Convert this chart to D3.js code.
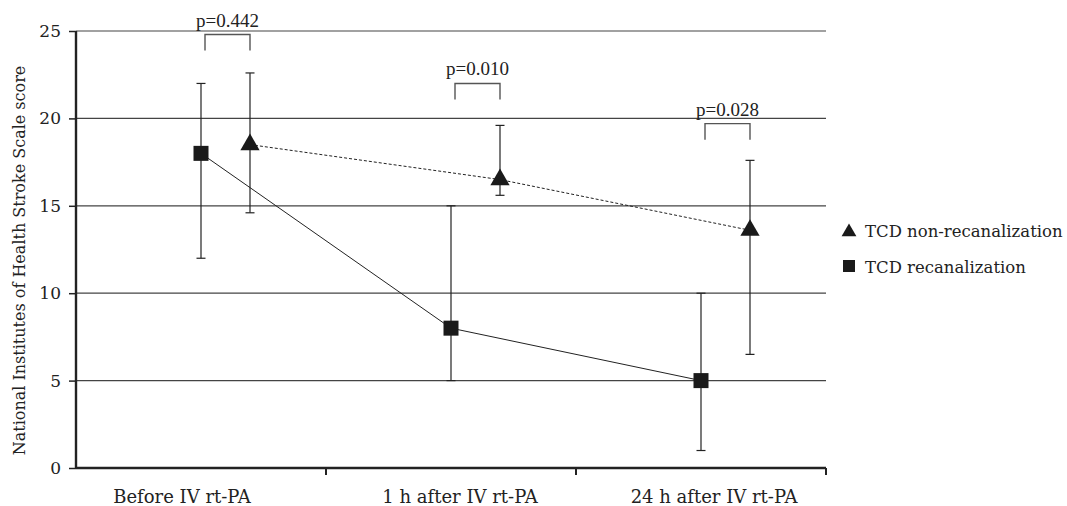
<!DOCTYPE html>
<html>
<head>
<meta charset="utf-8">
<script src="https://cdn.jsdelivr.net/npm/d3@7"></script>
<style>
  body { margin: 0; background: #fff; }
  text { fill: #222; }
</style>
</head>
<body>
<div class="chart"></div>
<script>
// data
var categories = ["Before IV rt-PA", "1 h after IV rt-PA", "24 h after IV rt-PA"];

var recanMean = [18, 8, 5];
var recanLow = [12, 5, 1];
var recanHigh = [22, 15, 10];

var nonMean = [18.5, 16.5, 13.6];
var nonLow = [14.6, 15.6, 6.5];
var nonHigh = [22.6, 19.6, 17.6];

var pLabels = ["p=0.442", "p=0.010", "p=0.028"];
var pLevel = [24.8, 22.0, 19.7];

var yTicks = [0, 5, 10, 15, 20, 25];

var serif = "'DejaVu Serif', serif";

// chart area
var svgWidth = 1067;
var svgHeight = 506;

var margin = { top: 31, right: 241, bottom: 38, left: 76 };
var width = svgWidth - margin.left - margin.right;
var height = svgHeight - margin.top - margin.bottom;

var svg = d3.select(".chart")
  .append("svg")
  .attr("width", svgWidth)
  .attr("height", svgHeight)
  .style("font-family", serif);

var chartGroup = svg.append("g")
  .attr("transform", `translate(${margin.left}, ${margin.top})`);

var xScale = d3.scaleBand()
  .domain(categories)
  .range([0, width]);

var yScale = d3.scaleLinear()
  .domain([0, 25])
  .range([height, 0]);

var triOffset = 49;
var xSq = (d, i) => xScale(categories[i]) + xScale.bandwidth() / 2;
var xTri = (d, i) => xSq(d, i) + triOffset;

// gridlines
chartGroup.selectAll(".grid")
  .data(yTicks.filter(t => t > 0))
  .enter()
  .append("line")
  .attr("x1", 0)
  .attr("x2", width)
  .attr("y1", d => yScale(d))
  .attr("y2", d => yScale(d))
  .attr("stroke", "#444")
  .attr("stroke-width", 1.2);

// axes
var leftAxis = d3.axisLeft(yScale).tickValues(yTicks).tickSize(7).tickPadding(8);
var yAxis = chartGroup.append("g").call(leftAxis);
yAxis.select(".domain").attr("stroke", "#222").attr("stroke-width", 2.4).attr("d", `M0,${height + 1}V0`);
yAxis.selectAll(".tick line").attr("stroke", "#222").attr("stroke-width", 1.5);
yAxis.selectAll("text").attr("font-size", 17).style("font-family", serif).attr("fill", "#222");

// labels are not quite centred in the original
var labelShift = [-19, 9, 13];
var bottomAxis = d3.axisBottom(xScale).tickSize(0).tickPadding(22);
var xAxis = chartGroup.append("g")
  .attr("transform", `translate(0, ${height})`)
  .call(bottomAxis);
xAxis.select(".domain").attr("stroke", "#222").attr("stroke-width", 2.4).attr("d", `M0,0H${width}`);
xAxis.selectAll("text")
  .attr("font-size", 18)
  .style("font-family", serif)
  .attr("fill", "#222")
  .attr("dx", (d, i) => labelShift[i]);

// band boundary ticks
chartGroup.selectAll(".xtick")
  .data(categories)
  .enter()
  .append("line")
  .attr("x1", d => xScale(d) + xScale.bandwidth())
  .attr("x2", d => xScale(d) + xScale.bandwidth())
  .attr("y1", height)
  .attr("y2", height + 7)
  .attr("stroke", "#222")
  .attr("stroke-width", 2);

// y label
chartGroup.append("text")
  .attr("transform", "rotate(-90)")
  .attr("x", -(height / 2) - 11)
  .attr("y", -margin.left + 25)
  .attr("text-anchor", "middle")
  .attr("font-size", 16)
  .text("National Institutes of Health Stroke Scale score");

// lines
var lineSq = d3.line().x(xSq).y(d => yScale(d));
var lineTri = d3.line().x(xTri).y(d => yScale(d));

chartGroup.append("path")
  .datum(recanMean)
  .attr("d", lineSq)
  .attr("fill", "none")
  .attr("stroke", "#222")
  .attr("stroke-width", 1);

chartGroup.append("path")
  .datum(nonMean)
  .attr("d", lineTri)
  .attr("fill", "none")
  .attr("stroke", "#222")
  .attr("stroke-width", 1)
  .attr("stroke-dasharray", "3,2");

// error bars
function errorBars(lows, highs, xf) {
  var g = chartGroup.append("g").attr("stroke", "#222").attr("stroke-width", 1.2);
  lows.forEach((lo, i) => {
    var x = xf(lo, i);
    g.append("line").attr("x1", x).attr("x2", x).attr("y1", yScale(lo)).attr("y2", yScale(highs[i]));
    g.append("line").attr("x1", x - 4.5).attr("x2", x + 4.5).attr("y1", yScale(lo)).attr("y2", yScale(lo));
    g.append("line").attr("x1", x - 4.5).attr("x2", x + 4.5).attr("y1", yScale(highs[i])).attr("y2", yScale(highs[i]));
  });
}
errorBars(recanLow, recanHigh, xSq);
errorBars(nonLow, nonHigh, xTri);

// markers
var sq = 15;
chartGroup.selectAll(".sq")
  .data(recanMean)
  .enter()
  .append("rect")
  .attr("x", (d, i) => xSq(d, i) - sq / 2)
  .attr("y", d => yScale(d) - sq / 2)
  .attr("width", sq)
  .attr("height", sq)
  .attr("fill", "#1a1a1a");

var tri = d3.symbol().type(d3.symbolTriangle).size(160);
chartGroup.selectAll(".tri")
  .data(nonMean)
  .enter()
  .append("path")
  .attr("d", tri)
  .attr("transform", (d, i) => `translate(${xTri(d, i)}, ${yScale(d)})`)
  .attr("fill", "#1a1a1a");

// p-value brackets
pLevel.forEach((lv, i) => {
  var x1 = xSq(0, i) + 4;
  var x2 = xTri(0, i);
  var yTop = yScale(lv);
  chartGroup.append("path")
    .attr("d", `M${x1},${yTop + 16}V${yTop}H${x2}V${yTop + 16}`)
    .attr("fill", "none")
    .attr("stroke", "#555")
    .attr("stroke-width", 1.4);
  chartGroup.append("text")
    .attr("x", (x1 + x2) / 2)
    .attr("y", yTop - 8)
    .attr("text-anchor", "middle")
    .style("font-family", "'Liberation Serif', serif")
    .attr("font-size", 19)
    .text(pLabels[i]);
});

// legend
var legendTri = d3.symbol().type(d3.symbolTriangle).size(95);
var legend = svg.append("g").attr("transform", "translate(849, 232)");
legend.append("path")
  .attr("d", legendTri)
  .attr("fill", "#1a1a1a");
legend.append("text")
  .attr("x", 16)
  .attr("y", 5)
  .attr("font-size", 16.5)
  .text("TCD non-recanalization");
legend.append("rect")
  .attr("x", -6)
  .attr("y", 28)
  .attr("width", 12)
  .attr("height", 12)
  .attr("fill", "#1a1a1a");
legend.append("text")
  .attr("x", 16)
  .attr("y", 41)
  .attr("font-size", 16.5)
  .text("TCD recanalization");
</script>
</body>
</html>
